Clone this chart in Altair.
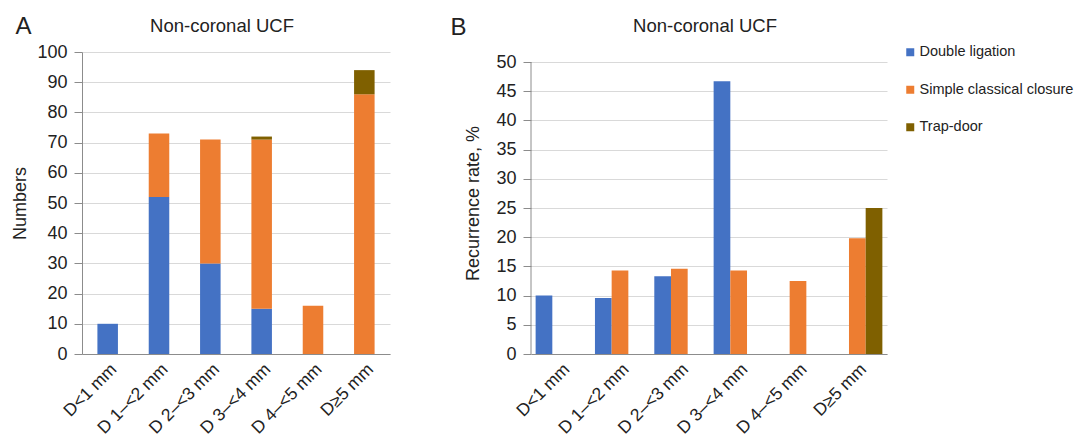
import altair as alt
import pandas as pd

FONT = "Liberation Sans"

categories = ["D<1 mm", "D 1–<2 mm", "D 2–<3 mm", "D 3–<4 mm", "D 4–<5 mm", "D≥5 mm"]
series = ["Double ligation", "Simple classical closure", "Trap-door"]
colors = ["#4472C4", "#ED7D31", "#7F6000"]

# Panel A: numbers (stacked)
numbers_double = [10, 52, 30, 15, 0, 0]
numbers_simple = [0, 21, 41, 56, 16, 86]
numbers_trap = [0, 0, 0, 1, 0, 8]

# Panel B: recurrence rate, % (grouped)
rate_double = [10.0, 9.6, 13.3, 46.7, None, None]
rate_simple = [None, 14.3, 14.6, 14.3, 12.5, 19.8]
rate_trap = [None, None, None, None, None, 25.0]

panel_titles = ["Non-coronal UCF", "Non-coronal UCF"]
panel_letters = ["A", "B"]
a_ticks = list(range(0, 101, 10))
b_ticks = list(range(0, 51, 5))

rows_a = []
for idx, (s, vals) in enumerate(zip(series, [numbers_double, numbers_simple, numbers_trap])):
    for c, v in zip(categories, vals):
        if v:
            rows_a.append({"category": c, "series": s, "idx": idx, "value": v})
df_a = pd.DataFrame(rows_a)

rows_b = []
for idx, (s, vals) in enumerate(zip(series, [rate_double, rate_simple, rate_trap])):
    for c, v in zip(categories, vals):
        if v is not None:
            rows_b.append({"category": c, "series": s, "idx": idx, "value": v})
df_b = pd.DataFrame(rows_b)

AXIS_GRAY = "#8c8c8c"

legend = alt.Legend(
    title=None, orient="none", legendX=821, legendY=-7,
    symbolType="square", symbolSize=64, symbolStrokeWidth=0,
    labelFontSize=14.5, labelFont=FONT, labelColor="#222",
    rowPadding=22.5, padding=0, labelOffset=2, labelLimit=300,
)
color = alt.Color("series:N", scale=alt.Scale(domain=series, range=colors), legend=legend)

x_axis = alt.Axis(title=None, labelAngle=-45, labelAlign="right", labelBaseline="top",
                  labelFontSize=17.5, labelPadding=6, ticks=False, labelColor="#222",
                  domainColor=AXIS_GRAY, grid=False)


def text_layer(txt, size, x, y):
    return alt.Chart(pd.DataFrame({"t": [txt]})).mark_text(
        fontSize=size, font=FONT, color="#222", align="center", baseline="alphabetic"
    ).encode(x=alt.value(x), y=alt.value(y), text="t:N")


bars_a = alt.Chart(df_a).mark_bar().encode(
    x=alt.X("category:N", sort=categories,
            scale=alt.Scale(domain=categories, paddingInner=0.6, paddingOuter=0.3), axis=x_axis),
    y=alt.Y("value:Q", scale=alt.Scale(domain=[0, 100], nice=False),
            axis=alt.Axis(values=a_ticks, title="Numbers", titlePadding=7, labelOverlap=False)),
    color=color,
    order=alt.Order("idx:Q", sort="ascending"),
)

panel_a = alt.layer(
    bars_a,
    text_layer(panel_letters[0], 24, -58.5, -18),
    text_layer(panel_titles[0], 18.5, 140, -20),
).properties(width=308, height=302)

# B's plot is 10px shorter than A's: extend its scale above 50 so the 50 line sits 10px lower
b_top = 50 * 302 / 292
b_scale = alt.Scale(domain=[0, b_top], nice=False)
b_axis = alt.Axis(values=b_ticks, title="Recurrence rate, %", titlePadding=13,
                  domain=False, labelOverlap=False)

bars_b = alt.Chart(df_b).mark_bar().encode(
    x=alt.X("category:N", sort=categories,
            scale=alt.Scale(domain=categories, paddingInner=0.156, paddingOuter=0.078), axis=x_axis),
    xOffset=alt.XOffset("series:N", scale=alt.Scale(domain=series, paddingInner=0, paddingOuter=0)),
    y=alt.Y("value:Q", scale=b_scale, axis=b_axis),
    color=color,
)
b_axis_line = alt.Chart(pd.DataFrame({"value": [0], "value2": [50]})).mark_rule(
    color=AXIS_GRAY, strokeWidth=1
).encode(x=alt.value(0), y=alt.Y("value:Q", scale=b_scale, axis=b_axis), y2="value2:Q")

panel_b = alt.layer(
    bars_b,
    b_axis_line,
    text_layer(panel_letters[1], 24, -72.5, -17),
    text_layer(panel_titles[1], 18.5, 174, -19.7),
).properties(width=356, height=302)

chart = alt.hconcat(panel_a, panel_b, spacing=60).properties(
    padding={"left": 3, "top": 7, "right": 0, "bottom": 0}
).configure_view(stroke=None).configure_axisY(
    labelFont=FONT, labelFontSize=18, labelColor="#222", labelPadding=7,
    titleFont=FONT, titleFontSize=18, titleFontWeight="normal", titleColor="#222",
    tickSize=8, tickColor=AXIS_GRAY, domainColor=AXIS_GRAY,
    gridColor="#d9d9d9", gridWidth=1,
).configure_axisX(labelFont=FONT)

chart.save("out.html", embed_options={"renderer": "svg", "actions": False})
